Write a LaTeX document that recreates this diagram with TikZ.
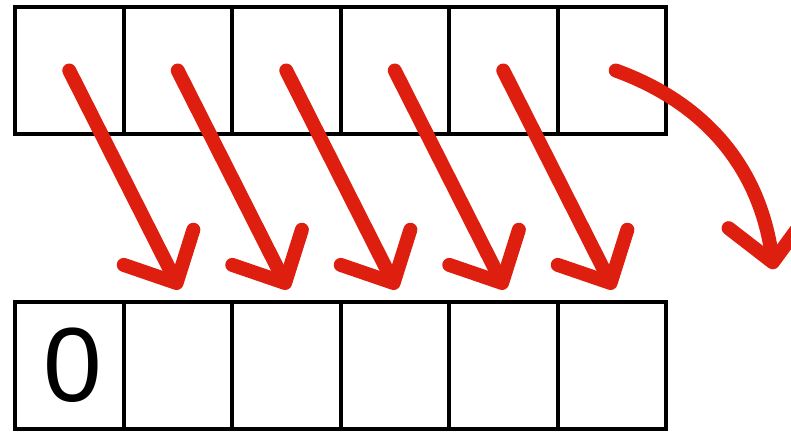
\documentclass[tikz,border=0pt]{standalone}
\usepackage{fontspec}
\setmainfont{Liberation Sans}
\usepackage{tikz}
\usetikzlibrary{positioning,arrows.meta,calc}
\usepackage{xcolor}
\definecolor{shiftred}{RGB}{222,30,14}

\begin{document}
\begin{tikzpicture}[x=1cm,y=1cm,
  cell/.style={draw,line width=0.04cm,minimum width=1.085cm,minimum height=1.265cm,inner sep=0pt,outer sep=0pt,font=\fontsize{30}{32}\selectfont},
  shiftarrow/.style={draw=shiftred,line width=0.14cm,line cap=round,-{Straight Barb[round,length=0.4cm,width=0.78cm]}}]
\useasboundingbox (0,0) rectangle (7.91,4.32);
% top row
\node[cell] (t1) at (0.6925,3.615) {};
\node[cell] (t2) at (1.7775,3.615) {};
\node[cell] (t3) at (2.8625,3.615) {};
\node[cell] (t4) at (3.9475,3.615) {};
\node[cell] (t5) at (5.0325,3.615) {};
\node[cell] (t6) at (6.1175,3.615) {};
% bottom row
\node[cell] (b1) at (0.6925,0.665) {\hspace{0.07cm}\raisebox{-0.06cm}{0}};
\node[cell] (b2) at (1.7775,0.665) {};
\node[cell] (b3) at (2.8625,0.665) {};
\node[cell] (b4) at (3.9475,0.665) {};
\node[cell] (b5) at (5.0325,0.665) {};
\node[cell] (b6) at (6.1175,0.665) {};
\coordinate (outside) at ([xshift=1.62cm,yshift=0.33cm]b6.north);
% shifts
\draw[shiftarrow] (t1.center) -- ([xshift=0.02cm,yshift=0.13cm]b2.north);
\draw[shiftarrow] (t2.center) -- ([xshift=0.02cm,yshift=0.13cm]b3.north);
\draw[shiftarrow] (t3.center) -- ([xshift=0.02cm,yshift=0.13cm]b4.north);
\draw[shiftarrow] (t4.center) -- ([xshift=0.02cm,yshift=0.13cm]b5.north);
\draw[shiftarrow] (t5.center) -- ([xshift=0.02cm,yshift=0.13cm]b6.north);
\draw[shiftarrow] ([xshift=0.04cm]t6.center) to[out=-20,in=98] (outside);
\end{tikzpicture}
\end{document}
